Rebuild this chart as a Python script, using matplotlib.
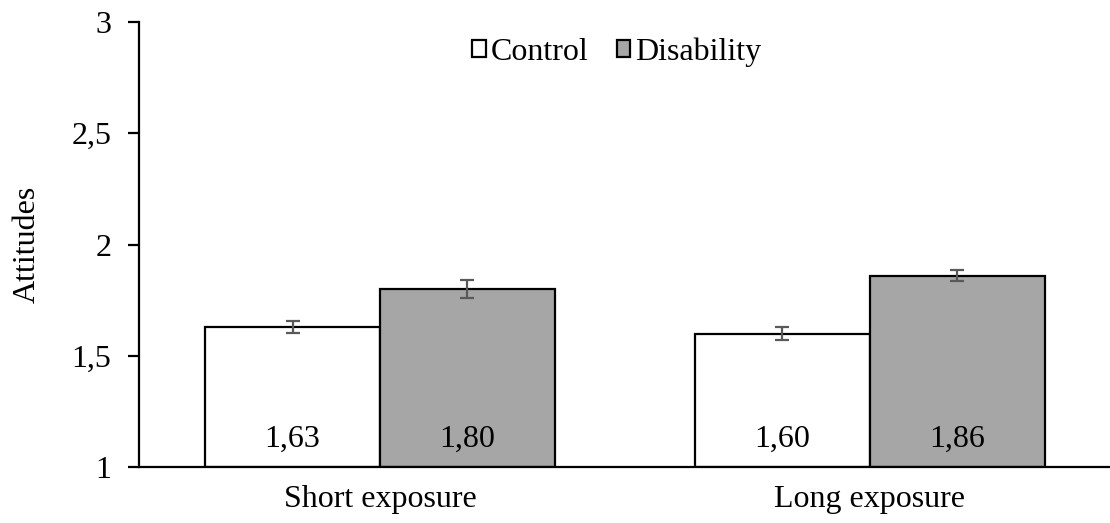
import numpy as np
import matplotlib.pyplot as plt

plt.rcParams['font.family'] = ['Liberation Serif', 'DejaVu Serif']

groups = ['Short exposure', 'Long exposure']
series = ['Control', 'Disability']
control = [1.63, 1.60]
disability = [1.80, 1.86]
control_err = [0.027, 0.03]
disability_err = [0.04, 0.025]
labels_control = ['1,63', '1,60']
labels_disability = ['1,80', '1,86']
yticks = [1, 1.5, 2, 2.5, 3]
ytick_labels = ['1', '1,5', '2', '2,5', '3']


def main():
    fig = plt.figure(figsize=(11.1, 5.23), dpi=100)
    ax = fig.add_axes([0.1252, 0.107, 0.8748, 0.851])
    x = np.arange(len(groups))
    w = 0.357
    fs = 23
    ax.bar(x - w/2, np.array(control) - 1, w, bottom=1, color='white',
           edgecolor='black', linewidth=1.6, label=series[0], zorder=2)
    ax.bar(x + w/2, np.array(disability) - 1, w, bottom=1, color='#a6a6a6',
           edgecolor='black', linewidth=1.6, label=series[1], zorder=2)
    ax.errorbar(x - w/2, control, yerr=control_err, fmt='none', ecolor='#595959',
                elinewidth=1.6, capsize=5, capthick=1.6, zorder=3)
    ax.errorbar(x + w/2, disability, yerr=disability_err, fmt='none', ecolor='#595959',
                elinewidth=1.6, capsize=5, capthick=1.6, zorder=3)
    for i in range(len(groups)):
        ax.text(x[i] - w/2, 1.125, labels_control[i], ha='center', va='center', fontsize=fs)
        ax.text(x[i] + w/2, 1.125, labels_disability[i], ha='center', va='center', fontsize=fs)

    ax.set_xlim(-0.492, 1.49)
    ax.set_ylim(1, 3)
    ax.set_yticks(yticks)
    ax.set_yticklabels(ytick_labels, fontsize=fs)
    ax.set_xticks(x)
    ax.set_xticklabels(groups, fontsize=fs)
    ax.tick_params(axis='x', length=0, pad=13)
    ax.tick_params(axis='y', length=8, width=1.6, pad=12)
    for s in ['top', 'right']:
        ax.spines[s].set_visible(False)
    for s in ['left', 'bottom']:
        ax.spines[s].set_linewidth(1.6)
    ax.set_ylabel('Attitudes', fontsize=fs, labelpad=21)
    ax.legend(loc='upper center', bbox_to_anchor=(0.492, 1.03), ncol=2, frameon=False,
              fontsize=fs, handlelength=0.42, handleheight=0.42, handletextpad=0.15,
              columnspacing=0.9)
    fig.savefig('out.png', dpi=100)


main()
